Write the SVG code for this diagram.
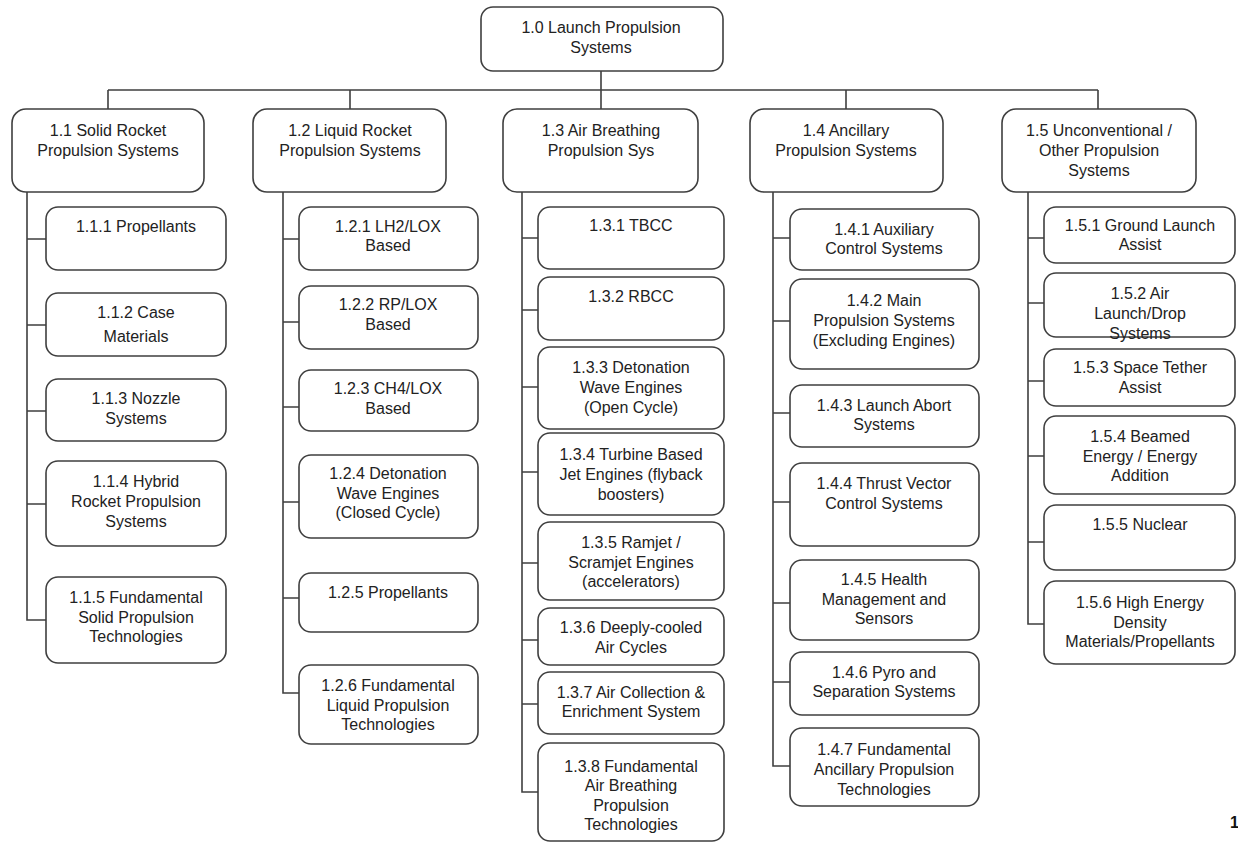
<svg xmlns="http://www.w3.org/2000/svg" width="1238" height="844" viewBox="0 0 1238 844">
<style>
.b{fill:#fff;stroke:#3f3f3f;stroke-width:1.6}
.t{font-family:"Liberation Sans",Arial,sans-serif;font-size:16px;fill:#222;text-anchor:middle}
.c{fill:none;stroke:#3f3f3f;stroke-width:1.6}
</style>
<rect width="1238" height="844" fill="#fff"/>
<g id="connectors">
<path class="c" d="M601 71 V90 M108 90 H1098 M108 90 V109 M350 90 V109 M601 90 V109 M846 90 V109 M1098 90 V109"/>
<path class="c" d="M27 192 V620 H46 M27 239 H46 M27 325 H46 M27 411 H46 M27 504 H46"/>
<path class="c" d="M283 192 V693 H299 M283 239 H299 M283 322 H299 M283 407 H299 M283 502 H299 M283 598 H299"/>
<path class="c" d="M522 192 V792 H538 M522 238 H538 M522 310 H538 M522 387 H538 M522 472 H538 M522 563 H538 M522 640 H538 M522 704 H538"/>
<path class="c" d="M773 192 V766 H790 M773 238 H790 M773 321 H790 M773 413 H790 M773 502 H790 M773 603 H790 M773 682 H790"/>
<path class="c" d="M1028 192 V624 H1044 M1028 238 H1044 M1028 303 H1044 M1028 381 H1044 M1028 456 H1044 M1028 542 H1044"/>
</g>
<g id="n1_0"><rect class="b" x="481" y="7" width="242" height="64" rx="12"/><text class="t" x="601" y="33">1.0 Launch Propulsion</text><text class="t" x="601" y="53">Systems</text></g>
<g id="n1_1"><rect class="b" x="12" y="109" width="192" height="83" rx="14"/><text class="t" x="108" y="136">1.1 Solid Rocket</text><text class="t" x="108" y="156">Propulsion Systems</text></g>
<g id="n1_2"><rect class="b" x="253" y="109" width="193" height="83" rx="14"/><text class="t" x="350" y="136">1.2 Liquid Rocket</text><text class="t" x="350" y="156">Propulsion Systems</text></g>
<g id="n1_3"><rect class="b" x="503" y="109" width="195" height="83" rx="14"/><text class="t" x="601" y="136">1.3 Air Breathing</text><text class="t" x="601" y="156">Propulsion Sys</text></g>
<g id="n1_4"><rect class="b" x="750" y="109" width="193" height="83" rx="14"/><text class="t" x="846" y="136">1.4 Ancillary</text><text class="t" x="846" y="156">Propulsion Systems</text></g>
<g id="n1_5"><rect class="b" x="1002" y="109" width="194" height="83" rx="14"/><text class="t" x="1099" y="136">1.5 Unconventional /</text><text class="t" x="1099" y="156">Other Propulsion</text><text class="t" x="1099" y="176">Systems</text></g>

<g id="n1_1_1"><rect class="b" x="46" y="207" width="180" height="63" rx="12"/><text class="t" x="136" y="232">1.1.1 Propellants</text></g>
<g id="n1_1_2"><rect class="b" x="46" y="293" width="180" height="63" rx="12"/><text class="t" x="136" y="318">1.1.2 Case</text><text class="t" x="136" y="342">Materials</text></g>
<g id="n1_1_3"><rect class="b" x="46" y="379" width="180" height="62" rx="12"/><text class="t" x="136" y="404">1.1.3 Nozzle</text><text class="t" x="136" y="424">Systems</text></g>
<g id="n1_1_4"><rect class="b" x="46" y="461" width="180" height="85" rx="12"/><text class="t" x="136" y="487">1.1.4 Hybrid</text><text class="t" x="136" y="507">Rocket Propulsion</text><text class="t" x="136" y="527">Systems</text></g>
<g id="n1_1_5"><rect class="b" x="46" y="577" width="180" height="86" rx="12"/><text class="t" x="136" y="603">1.1.5 Fundamental</text><text class="t" x="136" y="623">Solid Propulsion</text><text class="t" x="136" y="642">Technologies</text></g>

<g id="n1_2_1"><rect class="b" x="299" y="207" width="179" height="63" rx="12"/><text class="t" x="388" y="232">1.2.1 LH2/LOX</text><text class="t" x="388" y="251">Based</text></g>
<g id="n1_2_2"><rect class="b" x="299" y="286" width="179" height="63" rx="12"/><text class="t" x="388" y="310">1.2.2 RP/LOX</text><text class="t" x="388" y="330">Based</text></g>
<g id="n1_2_3"><rect class="b" x="299" y="370" width="179" height="61" rx="12"/><text class="t" x="388" y="394">1.2.3 CH4/LOX</text><text class="t" x="388" y="414">Based</text></g>
<g id="n1_2_4"><rect class="b" x="299" y="455" width="179" height="83" rx="12"/><text class="t" x="388" y="479">1.2.4 Detonation</text><text class="t" x="388" y="499">Wave Engines</text><text class="t" x="388" y="518">(Closed Cycle)</text></g>
<g id="n1_2_5"><rect class="b" x="299" y="573" width="179" height="59" rx="12"/><text class="t" x="388" y="598">1.2.5 Propellants</text></g>
<g id="n1_2_6"><rect class="b" x="299" y="665" width="179" height="79" rx="12"/><text class="t" x="388" y="691">1.2.6 Fundamental</text><text class="t" x="388" y="711">Liquid Propulsion</text><text class="t" x="388" y="730">Technologies</text></g>

<g id="n1_3_1"><rect class="b" x="538" y="207" width="186" height="62" rx="12"/><text class="t" x="631" y="231">1.3.1 TBCC</text></g>
<g id="n1_3_2"><rect class="b" x="538" y="277" width="186" height="63" rx="12"/><text class="t" x="631" y="302">1.3.2 RBCC</text></g>
<g id="n1_3_3"><rect class="b" x="538" y="347" width="186" height="82" rx="12"/><text class="t" x="631" y="373">1.3.3 Detonation</text><text class="t" x="631" y="393">Wave Engines</text><text class="t" x="631" y="413">(Open Cycle)</text></g>
<g id="n1_3_4"><rect class="b" x="538" y="433" width="186" height="82" rx="12"/><text class="t" x="631" y="460">1.3.4 Turbine Based</text><text class="t" x="631" y="480">Jet Engines (flyback</text><text class="t" x="631" y="500">boosters)</text></g>
<g id="n1_3_5"><rect class="b" x="538" y="522" width="186" height="78" rx="12"/><text class="t" x="631" y="548">1.3.5 Ramjet /</text><text class="t" x="631" y="568">Scramjet Engines</text><text class="t" x="631" y="587">(accelerators)</text></g>
<g id="n1_3_6"><rect class="b" x="538" y="608" width="186" height="57" rx="12"/><text class="t" x="631" y="633">1.3.6 Deeply-cooled</text><text class="t" x="631" y="653">Air Cycles</text></g>
<g id="n1_3_7"><rect class="b" x="538" y="672" width="186" height="62" rx="12"/><text class="t" x="631" y="698">1.3.7 Air Collection &amp;</text><text class="t" x="631" y="717">Enrichment System</text></g>
<g id="n1_3_8"><rect class="b" x="538" y="743" width="186" height="98" rx="12"/><text class="t" x="631" y="772">1.3.8 Fundamental</text><text class="t" x="631" y="791">Air Breathing</text><text class="t" x="631" y="811">Propulsion</text><text class="t" x="631" y="830">Technologies</text></g>

<g id="n1_4_1"><rect class="b" x="790" y="209" width="189" height="61" rx="12"/><text class="t" x="884" y="235">1.4.1 Auxiliary</text><text class="t" x="884" y="254">Control Systems</text></g>
<g id="n1_4_2"><rect class="b" x="790" y="279" width="189" height="90" rx="12"/><text class="t" x="884" y="306">1.4.2 Main</text><text class="t" x="884" y="326">Propulsion Systems</text><text class="t" x="884" y="346">(Excluding Engines)</text></g>
<g id="n1_4_3"><rect class="b" x="790" y="385" width="189" height="62" rx="12"/><text class="t" x="884" y="411">1.4.3 Launch Abort</text><text class="t" x="884" y="430">Systems</text></g>
<g id="n1_4_4"><rect class="b" x="790" y="463" width="189" height="83" rx="12"/><text class="t" x="884" y="489">1.4.4 Thrust Vector</text><text class="t" x="884" y="509">Control Systems</text></g>
<g id="n1_4_5"><rect class="b" x="790" y="560" width="189" height="80" rx="12"/><text class="t" x="884" y="585">1.4.5 Health</text><text class="t" x="884" y="605">Management and</text><text class="t" x="884" y="624">Sensors</text></g>
<g id="n1_4_6"><rect class="b" x="790" y="652" width="189" height="63" rx="12"/><text class="t" x="884" y="678">1.4.6 Pyro and</text><text class="t" x="884" y="697">Separation Systems</text></g>
<g id="n1_4_7"><rect class="b" x="790" y="728" width="189" height="78" rx="12"/><text class="t" x="884" y="755">1.4.7 Fundamental</text><text class="t" x="884" y="775">Ancillary Propulsion</text><text class="t" x="884" y="795">Technologies</text></g>

<g id="n1_5_1"><rect class="b" x="1044" y="207" width="191" height="56" rx="12"/><text class="t" x="1140" y="231">1.5.1 Ground Launch</text><text class="t" x="1140" y="250">Assist</text></g>
<g id="n1_5_2"><rect class="b" x="1044" y="273" width="191" height="64" rx="12"/><text class="t" x="1140" y="299">1.5.2 Air</text><text class="t" x="1140" y="319">Launch/Drop</text><text class="t" x="1140" y="339">Systems</text></g>
<g id="n1_5_3"><rect class="b" x="1044" y="349" width="191" height="57" rx="12"/><text class="t" x="1140" y="373">1.5.3 Space Tether</text><text class="t" x="1140" y="393">Assist</text></g>
<g id="n1_5_4"><rect class="b" x="1044" y="416" width="191" height="78" rx="12"/><text class="t" x="1140" y="442">1.5.4 Beamed</text><text class="t" x="1140" y="462">Energy / Energy</text><text class="t" x="1140" y="481">Addition</text></g>
<g id="n1_5_5"><rect class="b" x="1044" y="505" width="191" height="65" rx="12"/><text class="t" x="1140" y="530">1.5.5 Nuclear</text></g>
<g id="n1_5_6"><rect class="b" x="1044" y="581" width="191" height="83" rx="12"/><text class="t" x="1140" y="608">1.5.6 High Energy</text><text class="t" x="1140" y="628">Density</text><text class="t" x="1140" y="647">Materials/Propellants</text></g>

<text x="1230" y="828" style="font-family:'Liberation Sans',Arial,sans-serif;font-size:16px;font-weight:bold;fill:#111">1</text>
</svg>
